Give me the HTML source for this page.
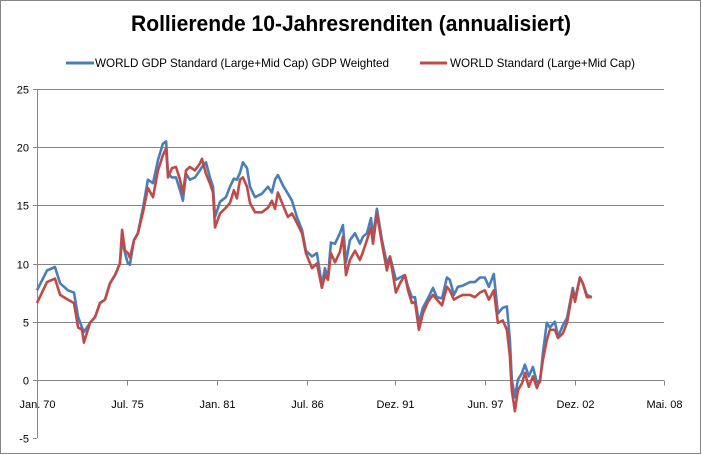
<!DOCTYPE html>
<html><head><meta charset="utf-8"><style>
html,body{margin:0;padding:0;background:#fff;}
svg{display:block;font-family:"Liberation Sans",sans-serif;}
</style></head><body>
<svg id="chart" width="702" height="455" viewBox="0 0 702 455">
<rect x="0.5" y="0.5" width="700" height="453" fill="#fff" stroke="#868686"/>
<text x="351" y="31" text-anchor="middle" font-size="22" font-weight="bold" textLength="440" lengthAdjust="spacingAndGlyphs">Rollierende 10-Jahresrenditen (annualisiert)</text>
<g>
<g>
<line x1="66" y1="63" x2="94" y2="63" stroke="#4a7ebb" stroke-width="3"/>
<text x="95" y="67" font-size="12" textLength="294" lengthAdjust="spacingAndGlyphs">WORLD GDP Standard (Large+Mid Cap) GDP Weighted</text>
</g>
<g>
<line x1="420" y1="63" x2="447" y2="63" stroke="#be4b48" stroke-width="3"/>
<text x="450" y="67" font-size="12" textLength="185" lengthAdjust="spacingAndGlyphs">WORLD Standard (Large+Mid Cap)</text>
</g>
</g>
<g id="grid"></g>
<g id="axes"></g>
<g id="series"></g>
</svg>
<script>
const yTicks = [-5, 0, 5, 10, 15, 20, 25];
const xTickYears = [1970, 1975.5, 1981, 1986.5, 1991.917, 1997.417, 2002.917, 2008.333];
const xTickLabels = ["Jan. 70", "Jul. 75", "Jan. 81", "Jul. 86", "Dez. 91", "Jun. 97", "Dez. 02", "Mai. 08"];
const dates = [1970.00,1970.61,1971.10,1971.41,1971.89,1972.26,1972.51,1972.75,1972.87,1973.24,1973.55,1973.85,1974.16,1974.46,1974.77,1975.07,1975.20,1975.38,1975.56,1975.68,1975.93,1976.17,1976.48,1976.78,1977.09,1977.40,1977.70,1977.89,1978.01,1978.25,1978.50,1978.74,1978.92,1979.11,1979.35,1979.66,1979.96,1980.09,1980.33,1980.57,1980.76,1980.88,1981.19,1981.55,1981.80,1982.04,1982.22,1982.41,1982.59,1982.84,1983.02,1983.33,1983.75,1984.12,1984.36,1984.55,1984.73,1985.04,1985.34,1985.59,1985.89,1986.20,1986.44,1986.81,1987.11,1987.42,1987.60,1987.79,1987.97,1988.22,1988.52,1988.70,1988.89,1989.13,1989.44,1989.74,1989.93,1990.17,1990.42,1990.54,1990.78,1991.09,1991.39,1991.58,1991.94,1992.19,1992.49,1992.68,1992.92,1993.11,1993.35,1993.59,1993.90,1994.21,1994.45,1994.76,1995.06,1995.24,1995.49,1995.73,1996.04,1996.47,1996.77,1997.08,1997.38,1997.63,1997.93,1998.18,1998.48,1998.73,1998.91,1999.03,1999.22,1999.40,1999.65,1999.83,2000.07,2000.32,2000.56,2000.75,2000.93,2001.17,2001.36,2001.66,2001.85,2002.15,2002.40,2002.76,2002.89,2003.19,2003.37,2003.62,2003.92];
const gdpWeighted = [7.7,9.4,9.7,8.3,7.7,7.5,5.4,4.5,4.1,4.9,5.4,6.6,6.9,8.3,9.0,10.0,12.0,10.9,10.0,9.9,12.0,12.6,14.8,17.2,16.9,18.9,20.3,20.5,17.7,17.4,17.4,16.3,15.4,17.7,17.2,17.4,18.0,18.3,18.7,17.4,16.6,14.0,15.3,15.7,16.6,17.3,17.2,17.8,18.7,18.2,16.6,15.7,16.0,16.6,16.1,17.2,17.6,16.7,16.0,15.4,14.0,12.9,11.1,10.6,10.9,8.1,9.6,8.8,11.8,11.7,12.6,13.3,10.1,12.0,12.6,11.7,12.3,12.6,13.9,12.3,14.7,12.0,10.0,10.6,8.6,8.8,9.0,8.0,7.1,7.1,4.9,6.2,7.0,7.9,7.1,7.0,8.8,8.6,7.3,8.0,8.1,8.4,8.4,8.8,8.8,8.0,9.1,5.7,6.2,6.3,3.4,0.0,-1.5,0.0,0.6,1.3,0.3,1.1,-0.2,-0.2,2.3,4.9,4.5,5.0,3.7,4.7,5.3,7.9,6.9,8.8,8.3,7.3,7.1];
const standard = [6.6,8.4,8.7,7.3,6.9,6.6,4.5,4.3,3.2,4.9,5.4,6.6,6.9,8.3,9.0,10.0,12.9,11.1,10.9,10.5,12.0,12.6,14.4,16.5,15.7,18.0,19.3,19.9,17.4,18.2,18.3,17.2,16.0,18.0,18.3,18.0,18.6,19.0,17.7,16.9,16.1,13.1,14.3,14.8,15.2,16.3,15.6,17.2,17.4,16.6,15.2,14.4,14.4,14.8,15.4,14.7,16.1,15.0,14.0,14.3,13.5,12.6,10.9,9.6,10.0,7.9,9.0,8.6,10.9,10.1,11.0,12.3,9.0,10.3,11.1,10.3,11.0,12.0,13.1,11.7,14.3,11.7,9.4,10.6,7.5,8.3,9.0,7.7,6.6,6.7,4.3,5.7,6.7,7.3,6.9,6.4,8.0,7.7,6.9,7.1,7.3,7.3,7.1,7.5,7.7,6.9,7.7,4.9,5.1,4.3,2.0,-0.9,-2.7,-0.9,-0.3,0.6,-0.6,0.3,-0.7,0.0,1.7,3.4,4.3,4.3,3.6,4.0,4.9,7.7,6.7,8.8,8.3,7.1,7.1];

const NS = "http://www.w3.org/2000/svg";
const plotL = 37, plotR = 664, plotT = 89, plotB = 438;
const xMin = 1970, xMax = 2008.333, yMin = -5, yMax = 25;
function xScale(v){ return plotL + (v - xMin) / (xMax - xMin) * (plotR - plotL); }
function yScale(v){ return plotB - (v - yMin) / (yMax - yMin) * (plotB - plotT); }
function mk(tag, attrs, parent){ const e = document.createElementNS(NS, tag); for (const k in attrs) e.setAttribute(k, attrs[k]); parent.appendChild(e); return e; }

const grid = document.getElementById('grid');
const axes = document.getElementById('axes');
yTicks.forEach(t => {
  const y = Math.round(yScale(t)) + 0.5;
  if (t !== 0 && t !== -5) {
    const gl = mk('line', {x1: plotL, x2: plotR, y1: y, y2: y, stroke: '#868686', 'stroke-width': 1}, grid);
    
    
  }
  const tm = mk('line', {x1: plotL - 4, x2: plotL, y1: y, y2: y, stroke: '#868686'}, axes);
  
  
  const lb = mk('text', {x: 29, y: y + 4, 'text-anchor': 'end', 'font-size': 11}, axes);
  lb.textContent = t;
  
  
});
const yAxis = mk('line', {x1: plotL + 0.5, x2: plotL + 0.5, y1: plotT, y2: plotB, stroke: '#868686'}, axes);


const y0 = Math.round(yScale(0)) + 0.5;
const xAxis = mk('line', {x1: plotL, x2: plotR, y1: y0, y2: y0, stroke: '#868686'}, axes);


xTickYears.forEach((d, i) => {
  const x = Math.round(xScale(d)) + 0.5;
  const tm = mk('line', {x1: x, x2: x, y1: y0, y2: y0 + 5, stroke: '#868686'}, axes);
  
  
  const lb = mk('text', {x: x, y: 408, 'text-anchor': 'middle', 'font-size': 11}, axes);
  lb.textContent = xTickLabels[i];
  
  
});

const series = document.getElementById('series');
function drawLine(vals, color, name){
  const pts = dates.map((d, i) => xScale(d).toFixed(1) + ',' + yScale(vals[i]).toFixed(1)).join(' ');
  const pl = mk('polyline', {points: pts, fill: 'none', stroke: color, 'stroke-width': 2.6, 'stroke-linejoin': 'round'}, series);
  
  
}
drawLine(gdpWeighted, '#4a7ebb', 'series-gdp-weighted-line');
drawLine(standard, '#be4b48', 'series-standard-line');
</script>
</body></html>
